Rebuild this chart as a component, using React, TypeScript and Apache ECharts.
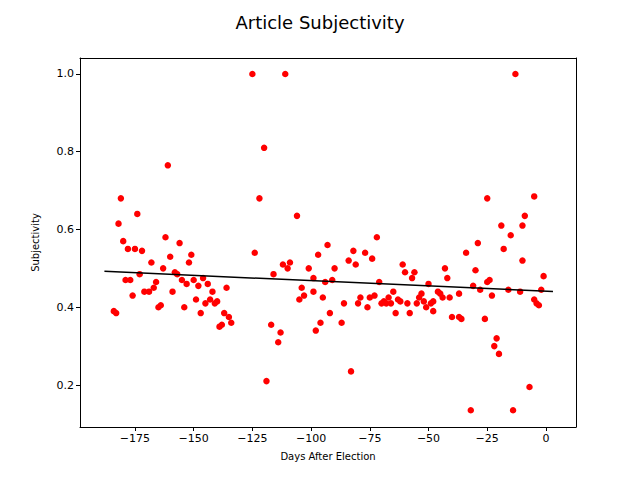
import React, { useEffect, useRef } from "react";
import * as echarts from "echarts";

const days = [-184,-183,-182,-181,-180,-179,-178,-177,-176,-175,-174,-173,-172,-171,-169,-168,-167,-166,-165,-164,-163,-162,-161,-160,-159,-158,-157,-156,-155,-154,-153,-152,-151,-150,-149,-148,-147,-146,-145,-144,-143,-142,-141,-140,-139,-138,-137,-136,-135,-134,
-125,-124,-122,-120,-119,-117,-116,-114,-113,-112,-111,-110,-109,-106,-105,-104,-103,-101,-99,-99,-98,-97,-96,-95,-94,-93,-92,-91,-90,-87,-86,-84,-83,-82,-81,-80,-79,-77,-76,-75,-74,-73,-72,-71,-70,-69,-68,-67,-66,-65,-64,-63,-62,-61,-60,-59,-58,-57,-56,-55,-54,-53,-52,-51,-50,-49,-48,-48,-46,-45,-44,-43,-42,-41,-40,-37,-36,-37,-34,-32,-31,-30,-29,-28,-26,-25,-25,-24,-23,-22,-21,-20,-19,-18,-16,-15,-14,-13,-11,-10,-10,-9,-7,-5,-5,-4,-3,-2,-1];
const subjectivity = [0.39,0.385,0.615,0.68,0.57,0.47,0.55,0.47,0.43,0.55,0.64,0.485,0.545,0.44,0.44,0.515,0.45,0.465,0.4,0.405,0.5,0.58,0.765,0.53,0.44,0.49,0.485,0.565,0.47,0.4,0.46,0.515,0.535,0.47,0.42,0.455,0.385,0.475,0.41,0.46,0.42,0.44,0.41,0.415,0.35,0.355,0.385,0.45,0.375,0.36,
1.0,0.54,0.68,0.81,0.21,0.355,0.485,0.31,0.335,0.51,1.0,0.5,0.515,0.635,0.42,0.45,0.43,0.5,0.475,0.44,0.34,0.535,0.36,0.425,0.465,0.56,0.385,0.47,0.5,0.36,0.41,0.52,0.235,0.545,0.51,0.41,0.425,0.54,0.4,0.425,0.525,0.43,0.58,0.465,0.41,0.415,0.41,0.425,0.41,0.44,0.385,0.42,0.415,0.51,0.49,0.41,0.385,0.475,0.49,0.41,0.425,0.435,0.415,0.4,0.46,0.41,0.415,0.39,0.44,0.435,0.425,0.5,0.475,0.425,0.375,0.375,0.37,0.435,0.54,0.135,0.455,0.495,0.565,0.445,0.37,0.465,0.68,0.47,0.43,0.3,0.32,0.28,0.61,0.55,0.445,0.585,0.135,1.0,0.44,0.61,0.52,0.635,0.195,0.42,0.685,0.41,0.405,0.445,0.48];
const xTicks = [-175,-150,-125,-100,-75,-50,-25,0];
const yTicks = [0.2,0.4,0.6,0.8,1.0];
const fitRange = [-188, 3];

export default function App() {
  const ref = useRef<HTMLDivElement>(null);
  useEffect(() => {
    document.body.style.margin = "0";
    const chart = echarts.init(ref.current!, null, { renderer: "svg" });
    const n = days.length;
    const mx = days.reduce((a, b) => a + b, 0) / n;
    const my = subjectivity.reduce((a, b) => a + b, 0) / n;
    let sxy = 0, sxx = 0;
    for (let i = 0; i < n; i++) { sxy += (days[i] - mx) * (subjectivity[i] - my); sxx += (days[i] - mx) ** 2; }
    const b = sxy / sxx, a = my - b * mx;
    const font = "DejaVu Sans";
    const minus = (v: number) => String(v).replace("-", "\u2212");
    const xr = { min: -198.4, max: 12.8 };
    const yr = { min: 0.092, max: 1.041 };
    const frame = { show: true, onZero: false, lineStyle: { color: "#000", width: 1 } };
    chart.setOption({
      animation: false,
      textStyle: { fontFamily: font },
      title: { text: "Article Subjectivity", left: "center", top: 8, textStyle: { fontFamily: font, fontSize: 18, fontWeight: "normal", color: "#000" } },
      grid: { left: 80, right: 64, top: 58, bottom: 53 },
      xAxis: [{
        type: "value", ...xr, position: "bottom",
        name: "Days After Election", nameLocation: "middle", nameGap: 24,
        nameTextStyle: { fontSize: 10, color: "#000" },
        axisLine: frame,
        splitLine: { show: false },
        axisTick: { inside: false, length: 4, lineStyle: { color: "#000" }, customValues: xTicks },
        axisLabel: { color: "#000", fontSize: 11, margin: 6, customValues: xTicks, formatter: (v: number) => minus(v) },
      }, {
        type: "value", ...xr, position: "top", axisLine: frame,
        axisTick: { show: false }, axisLabel: { show: false }, splitLine: { show: false },
      }],
      yAxis: [{
        type: "value", ...yr, position: "left",
        name: "Subjectivity", nameLocation: "middle", nameGap: 40,
        nameTextStyle: { fontSize: 10, color: "#000" },
        axisLine: frame,
        splitLine: { show: false },
        axisTick: { show: true, length: 4, lineStyle: { color: "#000" }, customValues: yTicks },
        axisLabel: { color: "#000", fontSize: 11, margin: 6, customValues: yTicks, formatter: (v: number) => v.toFixed(1) },
      }, {
        type: "value", ...yr, position: "right", axisLine: frame,
        axisTick: { show: false }, axisLabel: { show: false }, splitLine: { show: false },
      }],
      series: [
        { type: "scatter", data: days.map((d, i) => [d, subjectivity[i]]), symbolSize: 6.5, itemStyle: { color: "#ff0000", opacity: 1 }, z: 2 },
        { type: "line", data: fitRange.map((x) => [x, a + b * x]), symbol: "none", lineStyle: { color: "#000", width: 1.5 }, z: 3 },
      ],
    });
    return () => chart.dispose();
  }, []);
  return <div ref={ref} style={{ width: 640, height: 480, background: "#fff" }} />;
}
